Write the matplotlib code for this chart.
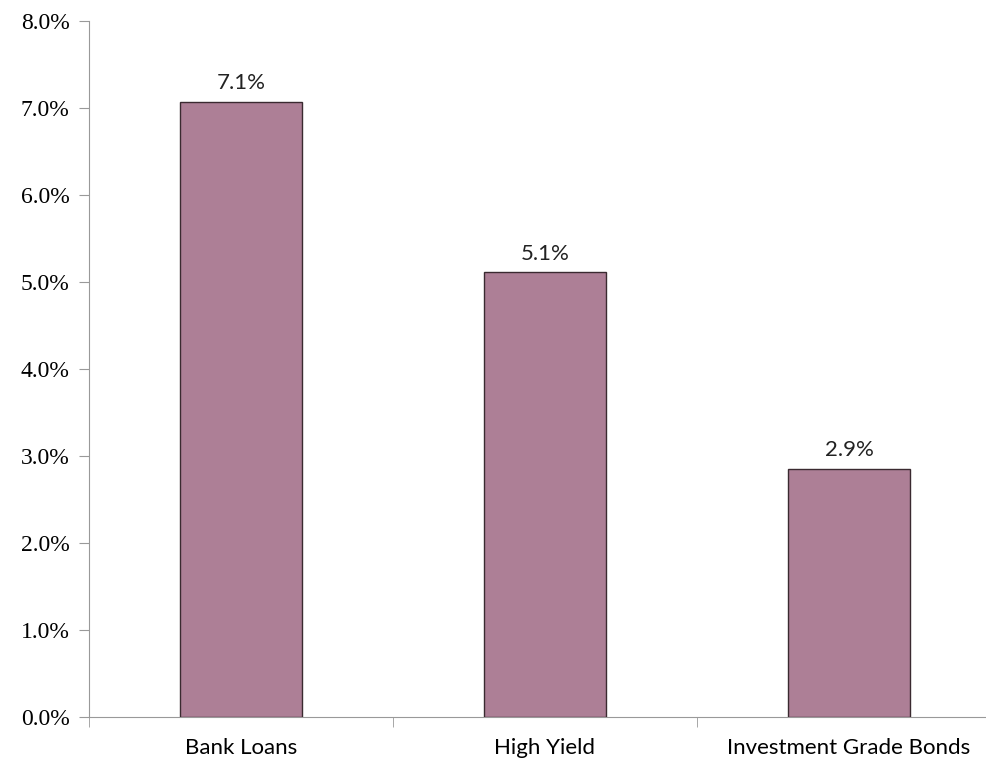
import matplotlib.pyplot as plt
import numpy as np

categories = ['Bank Loans', 'High Yield', 'Investment Grade Bonds']
values = [7.07, 5.11, 2.85]
labels = ['7.1%', '5.1%', '2.9%']
yticks = [0, 1, 2, 3, 4, 5, 6, 7, 8]

fig = plt.figure(figsize=(9.87, 7.62), dpi=100)
W, H = 987, 762
left, right, top, bottom = 89, 1001, 21, 717
ax = fig.add_axes([left / W, 1 - bottom / H, (right - left) / W, (bottom - top) / H])

x = np.arange(len(categories))
ax.bar(x, values, width=0.4, color='#AD7F96', edgecolor='#3a2a30', linewidth=1.0, zorder=3)
for xi, v, lab in zip(x, values, labels):
    ax.text(xi, v + 0.1, lab, ha='center', va='bottom', fontsize=16,
            family='Lato', color='#222222')

ax.set_xlim(-0.5, 2.5)
ax.set_ylim(0, 8)
ax.set_yticks(yticks)
ax.set_yticklabels(['%.1f%%' % t for t in yticks], family='Liberation Serif', fontsize=17)
ax.set_xticks(x)
ax.set_xticklabels(categories, family='Lato', fontsize=16)
ax.tick_params(axis='x', which='major', length=0, pad=15)
ax.set_xticks([-0.5, 0.5, 1.5, 2.5], minor=True)
ax.tick_params(axis='x', which='minor', length=7, color='#999999', direction='out')
ax.tick_params(axis='y', length=7, color='#999999', pad=7)

for s in ['top', 'right']:
    ax.spines[s].set_visible(False)
for s in ['left', 'bottom']:
    ax.spines[s].set_color('#999999')

fig.savefig('out.png', dpi=100)
